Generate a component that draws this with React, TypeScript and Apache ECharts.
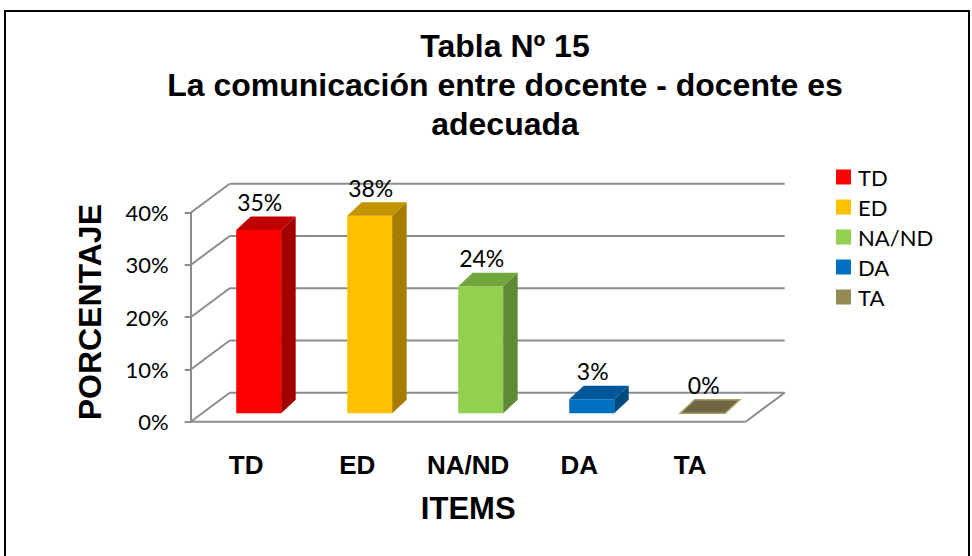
import React, { useEffect, useRef } from "react";
import * as echarts from "echarts";

const categories = ["TD", "ED", "NA/ND", "DA", "TA"];
const values = [35.1, 37.8, 24.3, 2.7, 0];
const yTicks = [0, 10, 20, 30, 40];
const frontColors = ["#FF0000", "#FFC000", "#92D050", "#0070C0", "#948A54"];
const sideColors = ["#A30000", "#A67D00", "#5F8A34", "#004A80", "#6B6440"];
const topColors = ["#C00000", "#C49300", "#71A63D", "#00589A", "#6F6643"];

const titleText = "Tabla Nº 15\nLa comunicación entre docente - docente es\nadecuada";
const yName = "PORCENTAJE";
const xName = "ITEMS";

// 3D geometry (pixels)
const WALL_DX = 39;
const WALL_DY = -29;
const BAR_OX = 12.5;
const BAR_OY = -8.4;
const BAR_DX = 14.5;
const BAR_DY = -13.5;
const BAR_FRAC = 0.405;
const GRID_COLOR = "#8C8C8C";

export default function App() {
  const ref = useRef<HTMLDivElement>(null);
  useEffect(() => {
    if (!ref.current) return;
    const chart = echarts.init(ref.current, null, { renderer: "svg" });

    const wallSeries = {
      type: "custom",
      name: "walls",
      silent: true,
      z: 1,
      data: yTicks.map((v) => [0, v]),
      renderItem: (params: any, api: any) => {
        const v = api.value(1);
        const p = api.coord([0, v]);
        const band = api.size([1, 0])[0];
        const xL = p[0] - band / 2;
        const xR = api.coord([categories.length - 1, v])[0] + band / 2;
        const y = p[1];
        const style = { stroke: GRID_COLOR, lineWidth: 2, fill: "none" };
        const children: any[] = [
          { type: "line", shape: { x1: xL, y1: y, x2: xL + WALL_DX, y2: y + WALL_DY }, style },
          { type: "line", shape: { x1: xL + WALL_DX, y1: y + WALL_DY, x2: xR + WALL_DX, y2: y + WALL_DY }, style },
        ];
        if (v === 0) {
          children.push({ type: "line", shape: { x1: xL, y1: y, x2: xR, y2: y }, style });
          children.push({ type: "line", shape: { x1: xR, y1: y, x2: xR + WALL_DX, y2: y + WALL_DY }, style });
        }
        return { type: "group", children };
      },
    };

    const barSeries = categories.map((cat, i) => ({
      type: "custom",
      name: cat,
      z: 2,
      itemStyle: { color: frontColors[i] },
      data: [[i, values[i]]],
      renderItem: (params: any, api: any) => {
        const idx = api.value(0);
        const v = api.value(1);
        const band = api.size([1, 0])[0];
        const w = band * BAR_FRAC;
        const c = api.coord([idx, v]);
        const base = api.coord([idx, 0]);
        const x0 = c[0] - w / 2 + BAR_OX;
        const x1 = x0 + w;
        const yb = base[1] + BAR_OY;
        const yt = c[1] + BAR_OY;
        const children: any[] = [];
        if (yb - yt > 0.5) {
          children.push({
            type: "rect",
            shape: { x: x0, y: yt, width: w, height: yb - yt },
            style: { fill: frontColors[i] },
          });
          children.push({
            type: "polygon",
            shape: { points: [[x1, yb], [x1 + BAR_DX, yb + BAR_DY], [x1 + BAR_DX, yt + BAR_DY], [x1, yt]] },
            style: { fill: sideColors[i] },
          });
        }
        children.push({
          type: "polygon",
          shape: { points: [[x0, yt], [x0 + BAR_DX, yt + BAR_DY], [x1 + BAR_DX, yt + BAR_DY], [x1, yt]] },
          style: { fill: topColors[i], stroke: v === 0 ? "#A89E6A" : "none", lineWidth: v === 0 ? 1.5 : 0 },
        });
        children.push({
          type: "text",
          x: x0 + w / 2 + 1,
          y: yt - 28,
          style: {
            text: Math.round(v) + "%",
            fill: "#000",
            font: "23px Lato",
            align: "center",
            verticalAlign: "middle",
          },
        });
        return { type: "group", children };
      },
    }));

    chart.setOption({
      animation: false,
      backgroundColor: "#fff",
      title: {
        text: titleText,
        left: 505,
        textAlign: "center",
        top: 26,
        padding: 0,
        textStyle: {
          fontFamily: "Liberation Sans",
          fontWeight: "bold",
          fontSize: 32,
          lineHeight: 39,
          color: "#000",
        },
      },
      legend: {
        orient: "vertical",
        left: 836,
        top: 166,
        icon: "rect",
        itemWidth: 15,
        itemHeight: 15,
        itemGap: 8,
        padding: 0,
        textStyle: { fontFamily: "Lato", fontSize: 22, lineHeight: 22, color: "#000", padding: [0, 0, 0, 2] },
        data: categories.map((c, i) => ({ name: c, itemStyle: { color: frontColors[i] } })),
      },
      grid: { left: 190.7, right: 226.3, top: 212.7, bottom: 134.3 },
      xAxis: {
        type: "category",
        data: categories,
        axisLine: { show: false },
        axisTick: { show: false },
        axisLabel: {
          margin: 30,
          fontFamily: "Liberation Sans",
          fontWeight: "bold",
          fontSize: 26,
          color: "#000",
        },
        name: xName,
        nameLocation: "middle",
        nameGap: 71,
        nameTextStyle: { fontFamily: "Liberation Sans", fontWeight: "bold", fontSize: 31, color: "#000" },
      },
      yAxis: {
        type: "value",
        min: 0,
        max: 40,
        interval: 10,
        axisLine: { show: true, lineStyle: { color: GRID_COLOR, width: 2 } },
        axisTick: { show: true, length: 6, lineStyle: { color: GRID_COLOR, width: 2 } },
        splitLine: { show: false },
        axisLabel: {
          margin: 22,
          fontFamily: "Lato",
          fontSize: 22,
          color: "#000",
          formatter: "{value}%",
        },
        name: yName,
        nameLocation: "middle",
        nameRotate: 90,
        nameGap: 85,
        nameTextStyle: {
          fontFamily: "Liberation Sans",
          fontWeight: "bold",
          fontSize: 32,
          color: "#000",
          padding: [0, 0, 0, 10],
        },
      },
      graphic: [
        {
          type: "rect",
          shape: { x: 5, y: 11, width: 964, height: 570 },
          style: { fill: "none", stroke: "#000", lineWidth: 2 },
          silent: true,
        },
      ],
      series: [wallSeries, ...barSeries],
    });
    return () => chart.dispose();
  }, []);
  return (
    <div
      ref={ref}
      style={{ position: "absolute", left: 0, top: 0, width: 972, height: 556 }}
    />
  );
}
